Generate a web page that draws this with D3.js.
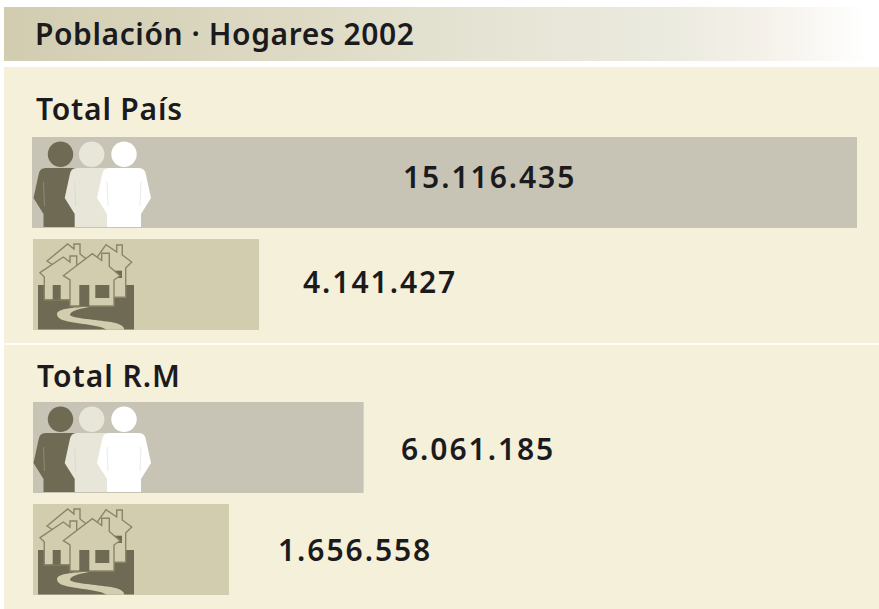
<!DOCTYPE html>
<html>
<head>
<meta charset="utf-8">
<script src="https://d3js.org/d3.v7.min.js"></script>
<style>
  html, body { margin: 0; padding: 0; background: #fff; }
  svg { display: block; }
  text { font-family: "Noto Sans", sans-serif; font-weight: 600; fill: #1b1a1d; }
</style>
</head>
<body>
<div id="grafico"></div>
<script>
// Datos
const titulo = "Población · Hogares 2002";
const grupos = ["Total País", "Total R.M"];
const poblacion = [15116435, 6061185];
const hogares = [4141427, 1656558];

const width = 879;
const height = 609;

// Colores
const cPanel = "#f5f0d9", cBarraPob = "#c7c4b5", cBarraHog = "#d3cdb0";
const cOscuro = "#6f6a54", cMedio = "#e8e6d9", cBlanco = "#ffffff", cLinea = "#8a8568";

// Posicion de cada grupo y de la cifra de cada barra
const topGrupo = [137, 402];
const tituloGrupoY = [120, 387];
const tituloGrupoX = [36, 37];
const altoBarra = 91;
const pasoFila = 102;
const xBarra = 33;
const xCifraPob = [403, 401];
const xCifraHog = [303, 278];
const yCifraPob = [188, 460];
const yCifraHog = [293, 561];

// En el original las barras no son proporcionales: la escala va por tramos
const x = d3.scaleLinear()
    .domain([0, 1656558, 4141427, 15116435])
    .range([0, 196, 226, 824]);

const formato = d3.formatLocale({ decimal: ",", thousands: ".", grouping: [3], currency: ["$", ""] }).format(",d");

const svg = d3.select("#grafico").append("svg")
    .attr("width", width)
    .attr("height", height);

// Degradado de la cabecera
const grad = svg.append("defs").append("linearGradient").attr("id", "cabecera");
[[0, "#d2cdb1"], [0.3, "#dcd8c2"], [0.55, "#e5e3d3"], [0.78, "#ecebe0"], [0.88, "#f5f1ea"], [1, "#ffffff"]]
    .forEach(d => grad.append("stop").attr("offset", d[0]).attr("stop-color", d[1]));

svg.append("rect").attr("x", 4).attr("y", 7).attr("width", 865).attr("height", 54).attr("fill", "url(#cabecera)");
svg.append("text").attr("x", 35).attr("y", 45).attr("font-size", 30).attr("letter-spacing", 0.58).text(titulo);

// Panel de fondo y separador
svg.append("rect").attr("x", 4).attr("y", 67).attr("width", 875).attr("height", 542).attr("fill", cPanel);
svg.append("rect").attr("x", 4).attr("y", 343).attr("width", 875).attr("height", 2).attr("fill", "#fdfcf7");

// Iconos
function dibujarPersonas(g) {
    const cuerpo = "M-15,0 Q-21,0 -22,7 L-27,30 L-17,46 L-17,59 L17,59 L17,46 L27,30 L22,7 Q21,0 15,0 Z";
    [[27.5, cOscuro], [58.7, cMedio], [91, cBlanco]].forEach(p => {
        g.append("circle").attr("cx", p[0]).attr("cy", 17.3).attr("r", 12.7).attr("fill", p[1]);
        const c = g.append("g").attr("transform", `translate(${p[0]},31)`);
        c.append("path").attr("d", cuerpo).attr("fill", p[1]);
        c.append("path").attr("d", "M-17,14 L-16,38 M17,14 L16,38")
            .attr("stroke", cBarraPob).attr("stroke-opacity", 0.35).attr("stroke-width", 1).attr("fill", "none");
    });
}

function dibujarCasas(g) {
    // suelo
    g.append("rect").attr("x", 5).attr("y", 46).attr("width", 96).attr("height", 44.5).attr("fill", cOscuro);

    const casa = (d) => g.append("path").attr("d", d)
        .attr("fill", cBarraHog).attr("stroke", cLinea).attr("stroke-width", 1.4);
    // casa del fondo, izquierda
    casa("M14,22 L34.7,5 L41,10 L41,5 L47,5 L47,15 L56,22 L52,26 L52,40 L20,40 L20,26 Z");
    // casa del fondo, derecha
    casa("M60,24 L73,5.7 L83.7,13 L83.7,6 L89.3,6 L89.3,16 L98.7,23 L92.7,29 L92.7,58.3 L70,58.3 L70,24 Z");
    g.append("rect").attr("x", 81).attr("y", 31.7).attr("width", 8).attr("height", 7.3).attr("fill", cOscuro);
    // casa media
    casa("M7,33.7 L30.3,18 L37,23 L37,17 L43.7,17 L43.7,28 L58,38 L58,60.7 L11.3,60.7 L11.3,38 Z");
    g.append("rect").attr("x", 19.7).attr("y", 46).attr("width", 8).attr("height", 14.7).attr("fill", cOscuro);
    g.append("rect").attr("x", 40).attr("y", 46).attr("width", 6).attr("height", 14).attr("fill", cOscuro);
    // casa delantera
    casa("M30.3,36.7 L59.3,14.7 L68.7,21.5 L68.7,14.3 L76.3,14.3 L76.3,27.5 L87,36.7 L81,41 L81,67 L37,67 L37,41 Z");
    g.append("rect").attr("x", 46.3).attr("y", 46).attr("width", 10).attr("height", 21).attr("fill", cOscuro);
    g.append("rect").attr("x", 62.3).attr("y", 46).attr("width", 14).attr("height", 13).attr("fill", cOscuro);
    // camino
    g.append("path")
        .attr("d", "M56,68 C40,68 24,70 24,75 C24,80 30,82 44,84 C56,86 68,87 73.7,90.7 L91.3,90.7 C91,86 85,84 74,82.5 C60,80.5 38,79 37,76 C37,72 46,70 56,68 Z")
        .attr("fill", cBarraHog);
}

// Filas
grupos.forEach((nombre, i) => {
    svg.append("text")
        .attr("x", tituloGrupoX[i])
        .attr("y", tituloGrupoY[i])
        .attr("font-size", 30)
        .attr("letter-spacing", i === 0 ? 0.8 : 1.0)
        .text(nombre);

    const filas = [
        { valor: poblacion[i], y: topGrupo[i], color: cBarraPob, icono: dibujarPersonas, xCifra: xCifraPob[i], yCifra: yCifraPob[i] },
        { valor: hogares[i], y: topGrupo[i] + pasoFila, color: cBarraHog, icono: dibujarCasas, xCifra: xCifraHog[i], yCifra: yCifraHog[i] }
    ];

    filas.forEach(f => {
        // la primera barra arranca un pixel antes
        const x0 = f.valor === d3.max(poblacion) ? xBarra - 1 : xBarra;
        svg.append("rect")
            .attr("x", x0)
            .attr("y", f.y)
            .attr("width", x(f.valor) + xBarra - x0)
            .attr("height", altoBarra)
            .attr("fill", f.color);

        f.icono(svg.append("g").attr("transform", `translate(${xBarra},${f.y})`));

        svg.append("text")
            .attr("x", f.xCifra)
            .attr("y", f.yCifra)
            .attr("font-size", 30)
            .attr("letter-spacing", 1.95)
            .text(formato(f.valor));
    });
});
</script>
</body>
</html>
